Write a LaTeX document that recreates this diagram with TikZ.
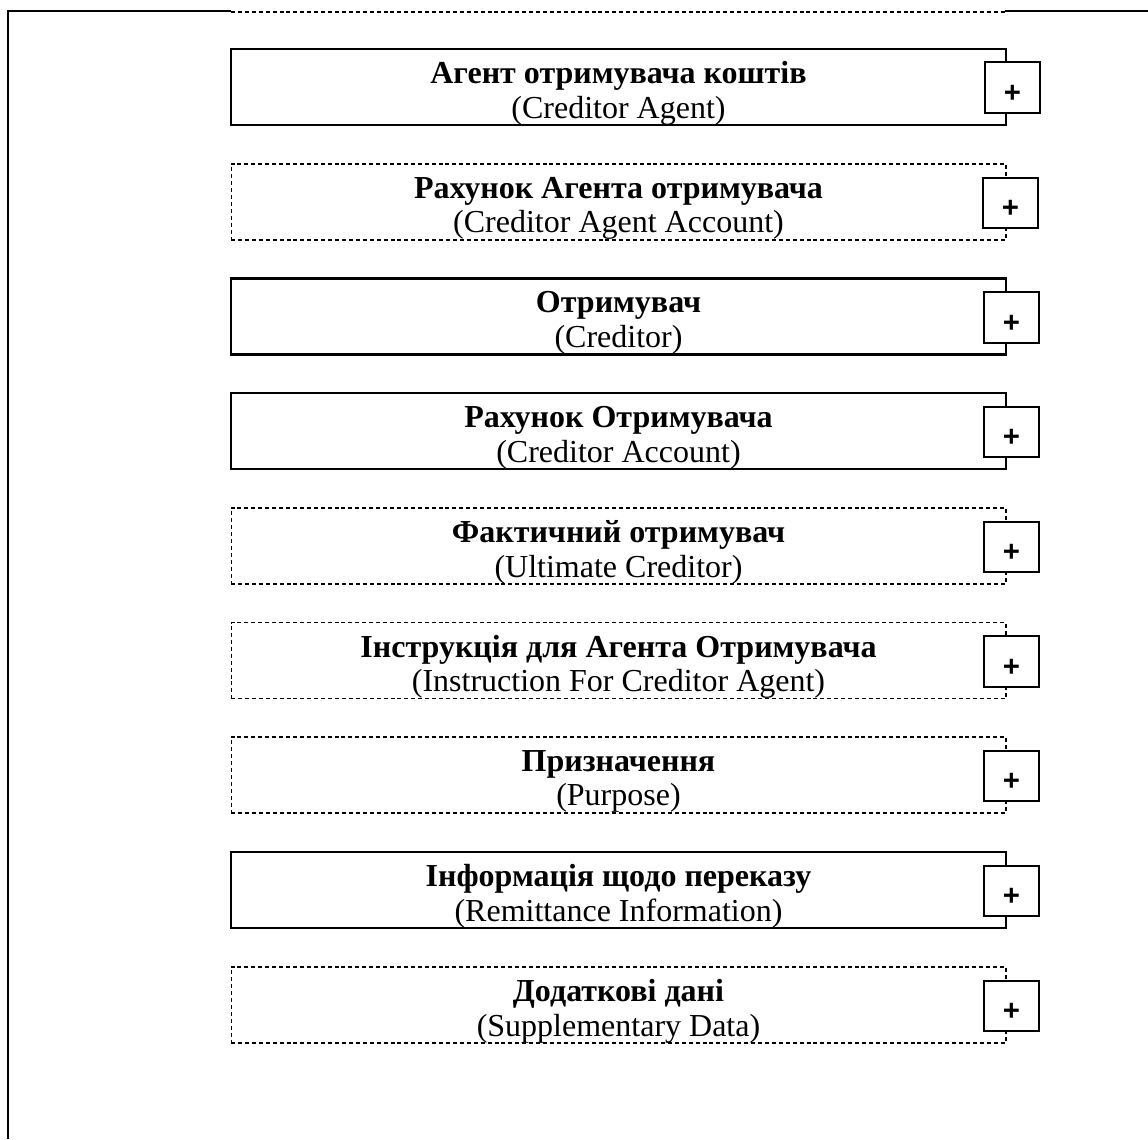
\documentclass[tikz,border=0pt]{standalone}
\usepackage{fontspec}
\setmainfont{Liberation Serif}
\newfontfamily\plusfont{Liberation Sans}

\begin{document}
\begin{tikzpicture}[x=0.375pt,y=-0.375pt]

\tikzset{block/.style = {shape=rectangle,draw,line width=0.9pt,minimum width=290.6pt,minimum height=28.5pt,inner sep=0pt}}
\tikzset{optblock/.style = {block,line width=0.4pt,dash pattern=on 1.5pt off 1.1pt}}
\tikzset{caption/.style = {align=center,font=\fontsize{12pt}{13pt}\selectfont,inner sep=0pt}}
\tikzset{plusbox/.style = {shape=rectangle,draw,fill=white,line width=0.75pt,minimum width=20.6pt,minimum height=19.1pt,inner sep=0pt,font=\plusfont\bfseries\fontsize{11pt}{11pt}\selectfont,text height=11.1pt,text depth=0pt}}

\useasboundingbox (0,0) rectangle (1148,1139);
%frame
\draw[line width=1.1pt] (8,1139) -- (8,11) -- (231,11);
\draw[line width=1.1pt] (1005,11) -- (1148,11);
\draw[line width=0.8pt, dash pattern=on 1.5pt off 1.1pt] (231,12) -- (1005,12);
%blocks
\node[block] (b1) at (618.5,87) {};
\node[optblock] (b2) at (618.5,202) {};
\node[block] (b3) at (618.5,316.5) {};
\node[block] (b4) at (618.5,431) {};
\node[optblock] (b5) at (618.5,546) {};
\node[optblock] (b6) at (618.5,660.5) {};
\node[optblock] (b7) at (618.5,775) {};
\node[block] (b8) at (618.5,890) {};
\node[optblock] (b9) at (618.5,1005) {};
%captions
\node[caption] (c1) at (618.5,93.5) {\textbf{Агент отримувача коштів}\\(Creditor Agent)};
\node[caption] (c2) at (618.5,208.5) {\textbf{Рахунок Агента отримувача}\\(Creditor Agent Account)};
\node[caption] (c3) at (618.5,323) {\textbf{Отримувач}\\(Creditor)};
\node[caption] (c4) at (618.5,437.5) {\textbf{Рахунок Отримувача}\\(Creditor Account)};
\node[caption] (c5) at (618.5,552.5) {\textbf{Фактичний отримувач}\\(Ultimate Creditor)};
\node[caption] (c6) at (618.5,667) {\textbf{Інструкція для Агента Отримувача}\\(Instruction For Creditor Agent)};
\node[caption] (c7) at (618.5,781.5) {\textbf{Призначення}\\(Purpose)};
\node[caption] (c8) at (618.5,896.5) {\textbf{Інформація щодо переказу}\\(Remittance Information)};
\node[caption] (c9) at (618.5,1011.5) {\textbf{Додаткові дані}\\(Supplementary Data)};
%plus buttons
\node[plusbox] (p1) at (1012.5,87.5) {+};
\node[plusbox] (p2) at (1010.5,203) {+};
\node[plusbox] (p3) at (1011.5,317.5) {+};
\node[plusbox] (p4) at (1011.5,432) {+};
\node[plusbox] (p5) at (1011.5,547) {+};
\node[plusbox] (p6) at (1011.5,661.5) {+};
\node[plusbox] (p7) at (1011.5,776) {+};
\node[plusbox] (p8) at (1011.5,891) {+};
\node[plusbox] (p9) at (1011.5,1006) {+};

\end{tikzpicture}
\end{document}
